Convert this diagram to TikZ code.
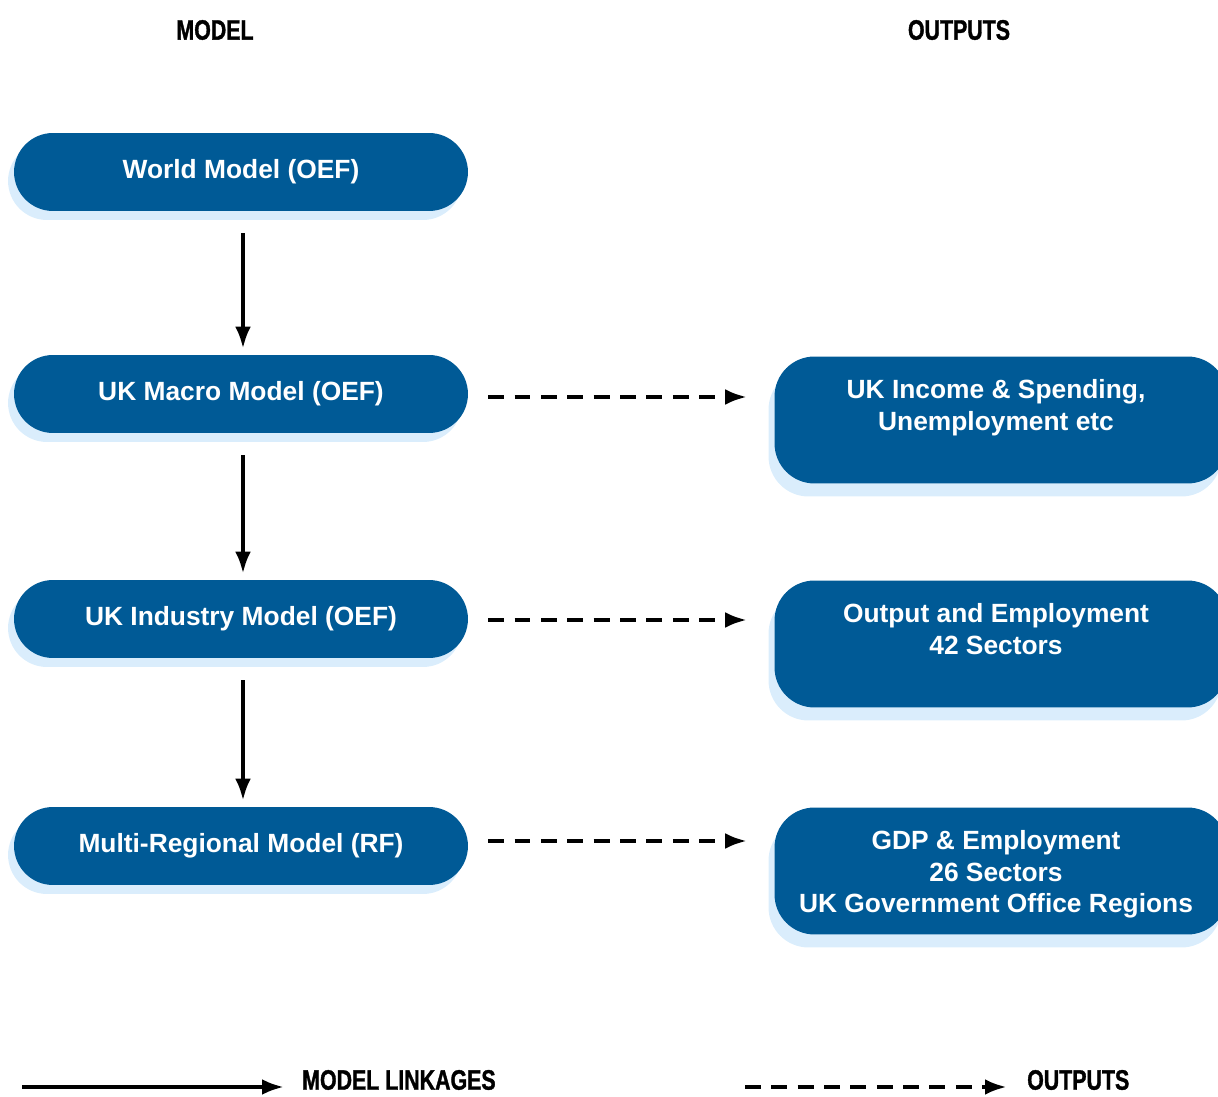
\documentclass[tikz,border=0pt]{standalone}
\usepackage{fontspec}
\setmainfont{Liberation Sans}
\newfontfamily\condfont[FakeStretch=0.76,FakeBold=1.2]{Liberation Sans}
\usepackage{xcolor}
\usepackage{tikz}
\usetikzlibrary{arrows.meta,shadows}
\definecolor{boxblue}{RGB}{0,90,150}
\definecolor{shadeblue}{RGB}{218,237,252}

\begin{document}
\begin{tikzpicture}[x=0.02cm, y=-0.02cm, >={Latex[length=12.5pt,width=9pt]},
  model/.style={fill=boxblue, text=white, font=\bfseries\fontsize{15}{18}\selectfont,
    rounded corners=0.78cm, minimum width=9.08cm, minimum height=1.56cm,
    drop shadow={fill=shadeblue, opacity=1, shadow xshift=-0.12cm, shadow yshift=-0.18cm}},
  outbox/.style={fill=boxblue, rounded corners=0.8cm, minimum width=9.06cm, minimum height=2.54cm,
    drop shadow={fill=shadeblue, opacity=1, shadow xshift=-0.12cm, shadow yshift=-0.26cm}},
  outtext/.style={text=white, font=\bfseries\fontsize{15}{18}\selectfont, align=center,
    anchor=north, inner sep=0pt},
  heading/.style={font=\condfont\bfseries\fontsize{16}{18}\selectfont},
  link/.style={->, line width=2.3pt},
  output/.style={->, line width=2.6pt, dash pattern=on 9pt off 6pt}]
\useasboundingbox (0,0) rectangle (1218,1097);

% column headings
\node[heading] (hmodel) at (215,30) {MODEL};
\node[heading] (hout) at (959,30) {OUTPUTS};

% models
\node[model] (world) at (241,172) {World Model (OEF)};
\node[model] (macro) at (241,394) {UK Macro Model (OEF)};
\node[model] (industry) at (241,619) {UK Industry Model (OEF)};
\node[model] (regional) at (241,846) {Multi-Regional Model (RF)};

% outputs
\node[outbox] (income) at (1001,420) {};
\node[outtext] (incometxt) at (996,379) {UK Income \& Spending,\\Unemployment etc};
\node[outbox] (sectors) at (1001,644) {};
\node[outtext] (sectorstxt) at (996,603) {Output and Employment\\42 Sectors};
\node[outbox] (regions) at (1001,871) {};
\node[outtext] (regionstxt) at (996,830) {GDP \& Employment\\26 Sectors\\UK Government Office Regions};

% model linkages
\foreach \a/\b in {world/macro, macro/industry, industry/regional}
  \draw[link, shorten <=0.44cm, shorten >=0.12cm] ([xshift=0.04cm]\a.south) -- ([xshift=0.04cm]\b.north);

% outputs
\draw[output, shorten <=0.4cm, shorten >=0.54cm] ([yshift=-0.06cm]macro.east) -- ([yshift=-0.06cm]macro.east -| income.west);
\draw[output, shorten <=0.4cm, shorten >=0.54cm] ([yshift=-0.02cm]industry.east) -- ([yshift=-0.02cm]industry.east -| sectors.west);
\draw[output, shorten <=0.4cm, shorten >=0.54cm] ([yshift=0.1cm]regional.east) -- ([yshift=0.1cm]regional.east -| regions.west);

% key
\coordinate (k1) at (22,1087);
\coordinate (k2) at (284,1087);
\coordinate (k3) at (745,1087);
\coordinate (k4) at (1007,1087);
\draw[link] (k1) -- (k2);
\node[heading, anchor=west] (klink) at (296,1080) {MODEL LINKAGES};
\draw[output] (k3) -- (k4);
\node[heading, anchor=west] (kout) at (1021,1080) {OUTPUTS};
\end{tikzpicture}
\end{document}
